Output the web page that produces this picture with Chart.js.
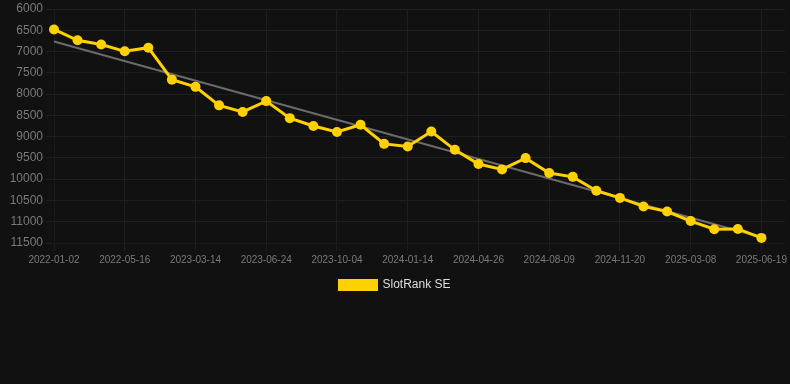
<!DOCTYPE html>
<html lang="en">
<head>
    <meta charset="UTF-8">
    <title>SlotRank SE</title>
    <script src="https://cdn.jsdelivr.net/npm/chart.js"></script>
    <style>
        body {
            margin: 0;
            padding: 0;
            background-color: #111111;
        }
        .chart-box {
            width: 790px;
            height: 301px;
        }
    </style>
</head>
<body>
    <div class="chart-box">
        <canvas id="rankChart"></canvas>
    </div>

    <script>
        const dates = [
            "2022-01-02", "2022-02-16", "2022-03-31", "2022-05-16", "2022-09-12", "2023-01-02",
            "2023-03-14", "2023-04-17", "2023-05-21", "2023-06-24", "2023-07-28", "2023-08-31",
            "2023-10-04", "2023-11-07", "2023-12-11", "2024-01-14", "2024-02-17", "2024-03-22",
            "2024-04-26", "2024-05-30", "2024-07-05", "2024-08-09", "2024-09-12", "2024-10-16",
            "2024-11-20", "2024-12-26", "2025-01-31", "2025-03-08", "2025-04-11", "2025-05-15",
            "2025-06-19", "2025-07-23"
        ];

        const rank = [
            6480, 6735, 6835, 6995, 6910, 7660, 7830, 8265, 8420, 8165,
            8565, 8750, 8890, 8720, 9170, 9230, 8880, 9310, 9645, 9770,
            9505, 9855, 9945, 10270, 10440, 10640, 10760, 10985, 11175, 11170,
            11380, null
        ];

        // trend line, only the two ends
        const trendStart = 6765;
        const trendEnd = 11365;
        const trend = dates.map((d, i) => i === 0 ? trendStart : (i === 30 ? trendEnd : null));

        const yMin = 6000;
        const yMax = 11500;
        const yStep = 500;

        const gridColor = "#1f1f1f";

        new Chart(document.getElementById("rankChart"), {
            type: "line",
            data: {
                labels: dates,
                datasets: [
                    {
                        label: "SlotRank SE",
                        data: rank,
                        borderColor: "#FFD100",
                        backgroundColor: "#FFD100",
                        borderWidth: 3,
                        pointRadius: 5,
                        pointBackgroundColor: "#FFD100",
                        pointBorderWidth: 0,
                        tension: 0
                    },
                    {
                        label: "trend",
                        data: trend,
                        borderColor: "#6b6b6b",
                        borderWidth: 2,
                        pointRadius: 0,
                        spanGaps: true,
                        fill: false
                    }
                ]
            },
            options: {
                responsive: true,
                maintainAspectRatio: false,
                animation: false,
                layout: {
                    padding: { top: -3 }
                },
                scales: {
                    x: {
                        grid: {
                            color: ctx => ctx.index % 3 === 0 ? gridColor : "transparent"
                        },
                        ticks: {
                            color: "#7a7a7a",
                            font: { size: 10 },
                            autoSkip: false,
                            maxRotation: 0,
                            callback: function(value, index) {
                                return index % 3 === 0 ? this.getLabelForValue(value) : "";
                            }
                        }
                    },
                    y: {
                        reverse: true,
                        min: yMin,
                        max: yMax,
                        grid: { color: gridColor },
                        afterFit: scale => { scale.width = 54; },
                        ticks: {
                            stepSize: yStep,
                            color: "#7a7a7a",
                            font: { size: 12, lineHeight: 1 },
                            callback: value => String(value)
                        }
                    }
                },
                plugins: {
                    legend: {
                        position: "bottom",
                        labels: {
                            color: "#dddddd",
                            font: { size: 12 },
                            boxWidth: 37,
                            boxHeight: 9,
                            filter: item => item.text === "SlotRank SE"
                        }
                    },
                    tooltip: { enabled: false }
                }
            }
        });
    </script>
</body>
</html>
